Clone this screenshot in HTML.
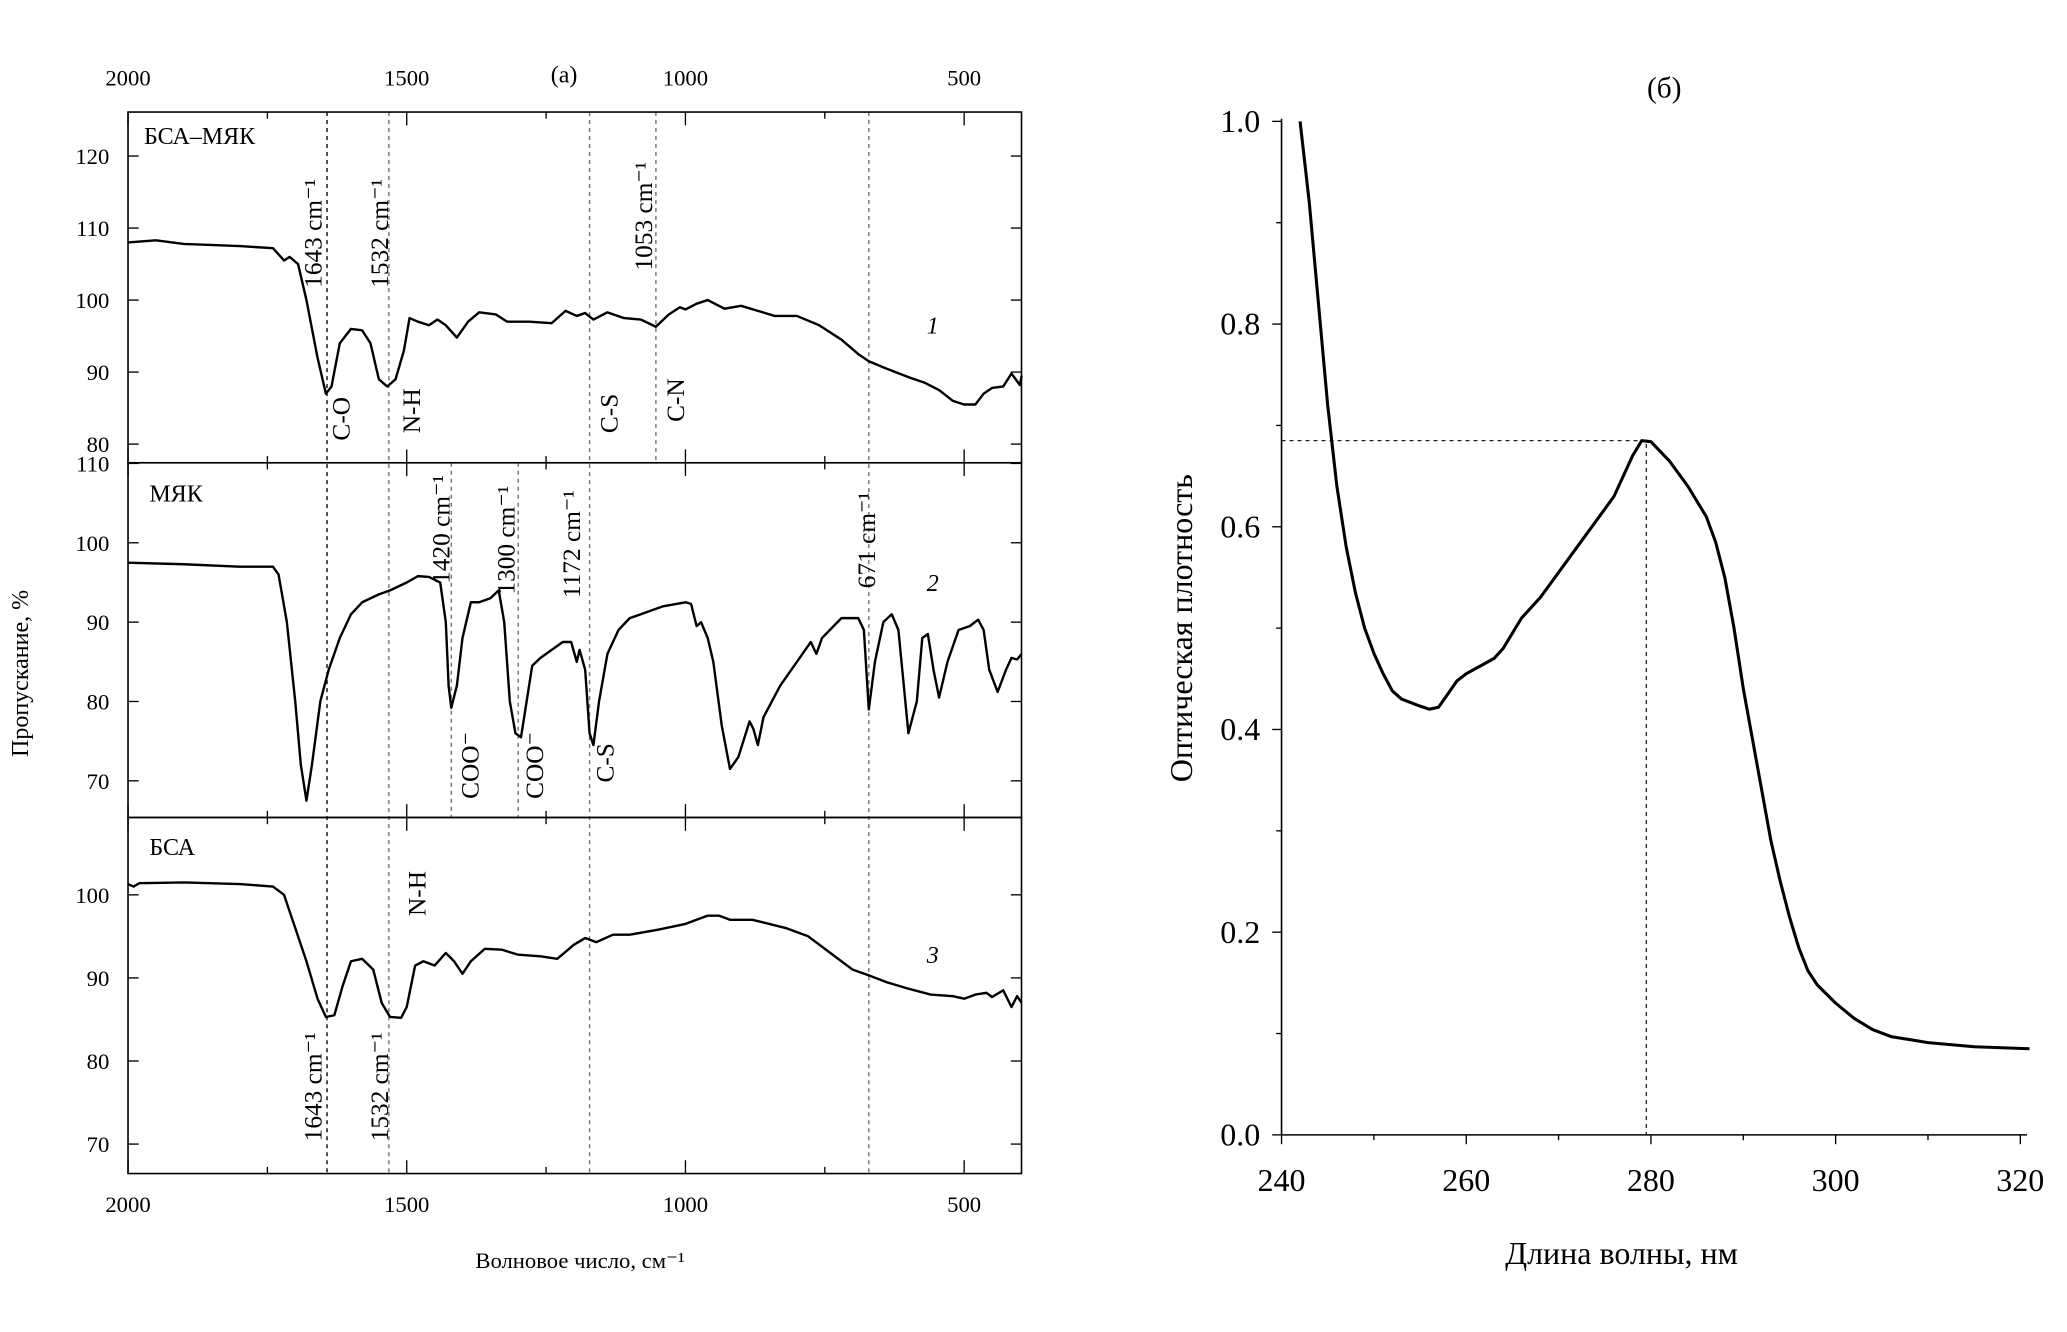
<!DOCTYPE html>
<html><head><meta charset="utf-8">
<style>
html,body{margin:0;padding:0;background:#fff;}
svg{display:block;font-family:"Liberation Serif","DejaVu Serif",serif;}
</style></head>
<body>
<svg id="fig" width="2067" height="1332" viewBox="0 0 1550 998.8" xmlns="http://www.w3.org/2000/svg">
<g id="left"></g>
<g id="right"></g>
</svg>
<script>
// ---- IR data (wavenumber cm-1, transmittance %) ----
const irWave1 = [2000,1950,1900,1800,1740,1720,1710,1695,1680,1660,1645,1635,1620,1600,1580,1565,1550,1535,1520,1505,1495,1480,1460,1445,1430,1410,1390,1370,1340,1320,1280,1240,1215,1195,1180,1165,1140,1110,1080,1053,1030,1010,1000,980,960,930,900,870,840,800,760,720,690,671,640,600,570,545,520,500,480,465,450,430,415,400,397];
const irT1 = [108,108.3,107.8,107.5,107.2,105.5,106,105,100,92,87,88,94,96,95.8,94,89,88,89,93,97.5,97,96.5,97.3,96.5,94.8,97,98.3,98,97,97,96.8,98.5,97.8,98.2,97.3,98.3,97.5,97.3,96.3,98,99,98.7,99.5,100,98.8,99.2,98.5,97.8,97.8,96.5,94.5,92.5,91.5,90.5,89.3,88.5,87.5,86,85.5,85.5,87,87.8,88,89.8,88.2,89.5];
const irWave2 = [2000,1900,1800,1740,1730,1715,1700,1690,1680,1670,1655,1640,1620,1600,1580,1550,1530,1500,1480,1460,1440,1430,1425,1420,1410,1400,1385,1370,1350,1335,1325,1315,1305,1295,1285,1275,1260,1240,1220,1205,1195,1190,1180,1172,1165,1155,1140,1120,1100,1080,1060,1040,1000,990,980,972,960,950,935,920,905,885,878,870,860,830,800,775,765,755,720,690,680,671,660,645,630,618,600,585,575,565,555,545,530,510,490,475,465,455,440,425,415,405,397];
const irT2 = [97.5,97.3,97,97,96,90,80,72,67.5,72,80,84,88,91,92.5,93.5,94,95,95.8,95.7,95,90,82,79.2,82,88,92.5,92.5,93,94,90,80,76,75.5,80,84.5,85.5,86.5,87.5,87.5,85,86.5,84,76,74.5,80,86,89,90.5,91,91.5,92,92.5,92.3,89.5,90,88,85,77,71.5,73,77.5,76.5,74.5,78,82,85,87.5,86,88,90.5,90.5,89,79,85,90,91,89,76,80,88,88.5,84,80.5,85,89,89.5,90.3,89,84,81.2,84,85.5,85.3,86];
const irWave3 = [2000,1990,1980,1900,1800,1740,1720,1700,1680,1660,1645,1630,1615,1600,1580,1560,1545,1530,1510,1500,1485,1470,1450,1430,1415,1400,1385,1360,1330,1300,1260,1230,1200,1180,1160,1130,1100,1050,1000,960,940,920,880,820,780,740,700,671,640,600,560,520,500,480,460,450,430,415,405,397];
const irT3 = [101.3,101,101.4,101.5,101.3,101,100,96,92,87.5,85.3,85.5,89,92,92.3,91,87,85.3,85.2,86.5,91.5,92,91.5,93,92,90.5,92,93.5,93.4,92.8,92.6,92.3,94,94.8,94.3,95.2,95.2,95.8,96.5,97.5,97.5,97,97,96,95,93,91,90.3,89.5,88.7,88,87.8,87.5,88,88.2,87.7,88.5,86.5,87.8,87];
const irXTicks = [2000,1500,1000,500];
const irMinorX = [1750,1250,750];
const irYTicks1 = [80,90,100,110,120];
const irYTicks2 = [70,80,90,100,110];
const irYTicks3 = [70,80,90,100];
const markers = [
 {w:1643, top:0, bot:2, dark:true},{w:1532, top:0, bot:2},{w:1420, top:1, bot:1},{w:1300, top:1, bot:1},
 {w:1172, top:0, bot:2},{w:1053, top:0, bot:0},{w:671, top:0, bot:2}];
// ---- UV data ----
const uvWave = [242,243,244,245,246,247,248,249,250,251,252,253,255,256,257,258,259,260,262,263,264,266,268,270,272,274,276,278,279,280,282,284,286,287,288,289,290,291,292,293,294,295,296,297,298,300,302,304,306,310,315,321];
const uvAbs = [1.0,0.92,0.82,0.72,0.64,0.58,0.535,0.5,0.475,0.455,0.438,0.43,0.423,0.42,0.422,0.435,0.448,0.455,0.465,0.47,0.48,0.51,0.53,0.555,0.58,0.605,0.63,0.67,0.685,0.684,0.665,0.64,0.61,0.585,0.55,0.5,0.44,0.39,0.34,0.29,0.25,0.215,0.185,0.162,0.148,0.13,0.115,0.104,0.097,0.091,0.087,0.085];
const uvXTicks = [240,260,280,300,320];
const uvYTicks = [0.0,0.2,0.4,0.6,0.8,1.0];
const uvPeak = 279.5, uvPeakVal = 0.685;

const NS = "http://www.w3.org/2000/svg";
function mk(parent, tag, attrs, text){
  const e = document.createElementNS(NS, tag);
  for (const k in attrs) e.setAttribute(k, attrs[k]);
  if (text !== undefined) e.textContent = text;
  parent.appendChild(e); return e;
}
const L = document.getElementById('left');
const R = document.getElementById('right');

const X0 = 96, X1 = 766;
const xW = w => X0 + (2000 - w) * 209 / 500;
const panels = [
  {top:84, bot:347, y: v => 225 - (v - 100) * 5.4, ticks: irYTicks1, wave: irWave1, t: irT1, name:'БСА–МЯК', num:'1'},
  {top:347, bot:613, y: v => 407 - (v - 100) * 5.95, ticks: irYTicks2, wave: irWave2, t: irT2, name:'МЯК', num:'2'},
  {top:613, bot:880, y: v => 671 - (v - 100) * 6.23, ticks: irYTicks3, wave: irWave3, t: irT3, name:'БСА', num:'3'}
];
const numPos = [[695,250],[695,443],[695,722]];
const namePos = [[108,108],[112,376],[112,641]];

markers.forEach(m => {
  const x = xW(m.w);
  const ln = mk(L, 'line', {x1:x, x2:x, y1:panels[m.top].top, y2:panels[m.bot].bot, stroke: m.dark ? '#111' : '#777', 'stroke-width':1.1, 'stroke-dasharray':'3,3'});
  
  
});

panels.forEach((p, i) => {
  const box = mk(L, 'rect', {x:X0, y:p.top, width:X1 - X0, height:p.bot - p.top, fill:'none', stroke:'#000', 'stroke-width':1.2});
  
  
  p.ticks.forEach(v => {
    const y = p.y(v);
    mk(L, 'line', {x1:X0, x2:X0 + 8, y1:y, y2:y, stroke:'#000', 'stroke-width':1});
    mk(L, 'line', {x1:X1, x2:X1 - 8, y1:y, y2:y, stroke:'#000', 'stroke-width':1});
    const t = mk(L, 'text', {x:X0 - 14, y:y + 6, 'text-anchor':'end', 'font-size':17}, String(v));
    
    
  });
  irXTicks.forEach(w => { const x = xW(w);
    mk(L, 'line', {x1:x, x2:x, y1:p.top, y2:p.top + 10, stroke:'#000'});
    mk(L, 'line', {x1:x, x2:x, y1:p.bot, y2:p.bot - 10, stroke:'#000'}); });
  irMinorX.forEach(w => { const x = xW(w);
    mk(L, 'line', {x1:x, x2:x, y1:p.top, y2:p.top + 5, stroke:'#000'});
    mk(L, 'line', {x1:x, x2:x, y1:p.bot, y2:p.bot - 5, stroke:'#000'}); });
  const pts = p.wave.map((w, k) => xW(w).toFixed(1) + ',' + p.y(p.t[k]).toFixed(1)).join(' ');
  const pl = mk(L, 'polyline', {points:pts, fill:'none', stroke:'#000', 'stroke-width':1.8, 'stroke-linejoin':'round'});
  
  
  const nm = mk(L, 'text', {x:namePos[i][0], y:namePos[i][1], 'font-size':18}, p.name);
  
  
  const nu = mk(L, 'text', {x:numPos[i][0], y:numPos[i][1], 'font-size':18, 'font-style':'italic'}, p.num);
  
  
});
irXTicks.forEach(w => {
  const a = mk(L, 'text', {x:xW(w), y:64, 'text-anchor':'middle', 'font-size':17}, String(w));
  
  
  const b = mk(L, 'text', {x:xW(w), y:909, 'text-anchor':'middle', 'font-size':17}, String(w));
  
  
});
const ann = [
 [241,175,'1643 cm⁻¹'],[291,175,'1532 cm⁻¹'],[489,162,'1053 cm⁻¹'],
 [262,314,'C-O'],[315,308,'N-H'],[463,310,'C-S'],[513,300,'C-N'],
 [337,397,'1420 cm⁻¹'],[386,405,'1300 cm⁻¹'],[435,408,'1172 cm⁻¹'],[656,405,'671 cm⁻¹'],
 [359,574,'COO⁻'],[407,574,'COO⁻'],[460,572,'C-S'],
 [319,670,'N-H'],[241,815,'1643 cm⁻¹'],[291,815,'1532 cm⁻¹']];
ann.forEach(a => {
  const t = mk(L, 'text', {x:0, y:0, 'text-anchor':'middle', 'font-size':19, transform:`translate(${a[0]},${a[1]}) rotate(-90)`}, a[2]);
  
  
});
let t1 = mk(L, 'text', {x:423, y:62, 'text-anchor':'middle', 'font-size':18}, '(a)');
 
t1 = mk(L, 'text', {x:435, y:951, 'text-anchor':'middle', 'font-size':17}, 'Волновое число, см⁻¹');
 
t1 = mk(L, 'text', {x:0, y:0, 'text-anchor':'middle', 'font-size':18, transform:'translate(21,505) rotate(-90)'}, 'Пропускание, %');
 

const ux = v => 961 + (v - 240) * (1515 - 961) / 80;
const uy = v => 851 - v * 760;
let ax = mk(R, 'line', {x1:961, x2:961, y1:89, y2:851, stroke:'#000', 'stroke-width':1.2});
 
ax = mk(R, 'line', {x1:961, x2:1520, y1:851, y2:851, stroke:'#000', 'stroke-width':1.2});
 
uvYTicks.forEach(v => { const y = uy(v);
  mk(R, 'line', {x1:954, x2:961, y1:y, y2:y, stroke:'#000'});
  const t = mk(R, 'text', {x:945, y:y + 8, 'text-anchor':'end', 'font-size':24}, v.toFixed(1));
    });
[0.1,0.3,0.5,0.7,0.9].forEach(v => { const y = uy(v); mk(R, 'line', {x1:957, x2:961, y1:y, y2:y, stroke:'#000'}); });
uvXTicks.forEach(v => { const x = ux(v);
  mk(R, 'line', {x1:x, x2:x, y1:851, y2:858, stroke:'#000'});
  const t = mk(R, 'text', {x:x, y:893, 'text-anchor':'middle', 'font-size':24}, String(v));
    });
[250,270,290,310].forEach(v => { const x = ux(v); mk(R, 'line', {x1:x, x2:x, y1:851, y2:855, stroke:'#000'}); });
let g = mk(R, 'polyline', {points:`961,${uy(uvPeakVal)} ${ux(uvPeak)},${uy(uvPeakVal)} ${ux(uvPeak)},851`, fill:'none', stroke:'#222', 'stroke-width':1, 'stroke-dasharray':'3,3'});
 
g = mk(R, 'polyline', {points: uvWave.map((w, k) => ux(w).toFixed(1) + ',' + uy(uvAbs[k]).toFixed(1)).join(' '), fill:'none', stroke:'#000', 'stroke-width':2.3, 'stroke-linejoin':'round'});
 
t1 = mk(R, 'text', {x:1248, y:73, 'text-anchor':'middle', 'font-size':22}, '(б)');
 
t1 = mk(R, 'text', {x:1216, y:948, 'text-anchor':'middle', 'font-size':24}, 'Длина волны, нм');
 
t1 = mk(R, 'text', {x:0, y:0, 'text-anchor':'middle', 'font-size':24, transform:'translate(894,471) rotate(-90)'}, 'Оптическая плотность');
 
</script>
</body></html>
